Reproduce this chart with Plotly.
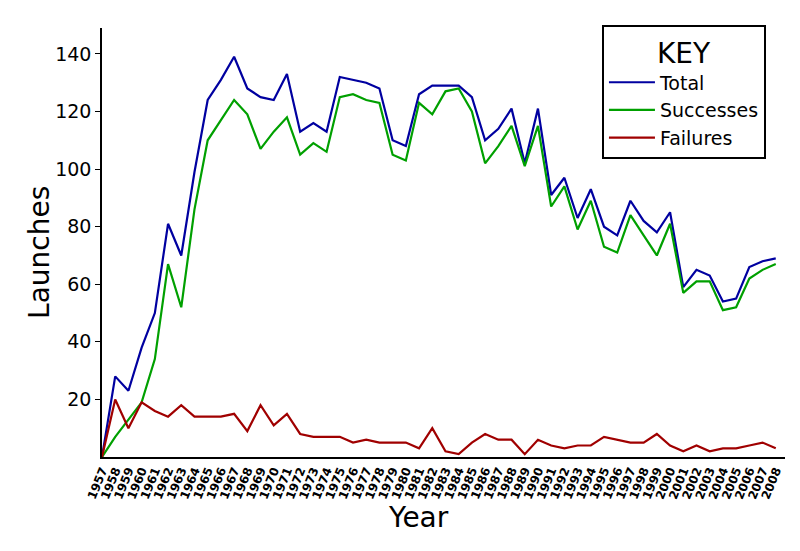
import plotly.graph_objects as go

years = list(range(1957, 2009))
total = [0, 28, 23, 38, 50, 81, 70, 99, 124, 131, 139, 128, 125, 124, 133, 113, 116, 113,
         132, 131, 130, 128, 110, 108, 126, 129, 129, 129, 125, 110, 114, 121, 102, 121,
         91, 97, 83, 93, 80, 77, 89, 82, 78, 85, 59, 65, 63, 54, 55, 66, 68, 69]
successes = [0, 7, 13, 19, 34, 67, 52, 86, 110, 117, 124, 119, 107, 113, 118, 105, 109, 106,
             125, 126, 124, 123, 105, 103, 123, 119, 127, 128, 120, 102, 108, 115, 101, 115,
             87, 94, 79, 89, 73, 71, 84, 77, 70, 81, 57, 61, 61, 51, 52, 62, 65, 67]
failures = [0, 20, 10, 19, 16, 14, 18, 14, 14, 14, 15, 9, 18, 11, 15, 8, 7, 7,
            7, 5, 6, 5, 5, 5, 3, 10, 2, 1, 5, 8, 6, 6, 1, 6,
            4, 3, 4, 4, 7, 6, 5, 5, 8, 4, 2, 4, 2, 3, 3, 4, 5, 3]
tick_labels = [str(y) for y in years]
y_ticks = [20, 40, 60, 80, 100, 120, 140]

font = "DejaVu Sans"
fig = go.Figure()
fig.add_trace(go.Scatter(x=years, y=total, mode="lines", name="Total",
                         line=dict(color="#0000A0", width=2.2)))
fig.add_trace(go.Scatter(x=years, y=successes, mode="lines", name="Successes",
                         line=dict(color="#00A000", width=2.2)))
fig.add_trace(go.Scatter(x=years, y=failures, mode="lines", name="Failures",
                         line=dict(color="#A00000", width=2.2)))

fig.update_layout(
    width=800, height=551,
    margin=dict(l=102, r=15, t=28, b=94, autoexpand=False),
    paper_bgcolor="white", plot_bgcolor="white",
    font=dict(family=font, color="black"),
    showlegend=True,
    legend=dict(
        x=0.732, y=1.007, xanchor="left", yanchor="top",
        bordercolor="black", borderwidth=2, bgcolor="white",
        font=dict(family=font, size=19),
        title=dict(text="KEY", font=dict(family=font, size=28), side="top center"),
        itemwidth=46, tracegroupgap=0,
    ),
    xaxis=dict(
        range=[1957, 2008.7], tickmode="array", tickvals=years, ticktext=tick_labels,
        tickangle=-68, tickfont=dict(family=font, size=12, weight="bold"),
        showline=True, linecolor="black", linewidth=1.5, showgrid=False, zeroline=False,
        ticks="", automargin=False,
    ),
    yaxis=dict(
        range=[0, 149], tickmode="array", tickvals=y_ticks,
        tickfont=dict(family=font, size=19),
        showline=True, linecolor="black", linewidth=1.5, showgrid=False, zeroline=False,
        ticks="outside", ticklen=5, tickcolor="black", automargin=False,
    ),
    annotations=[
        dict(text="Year", xref="paper", yref="paper", x=0.463, y=-0.14,
             xanchor="center", yanchor="middle", showarrow=False,
             font=dict(family=font, size=28)),
        dict(text="Launches", xref="paper", yref="paper", x=-0.0908, y=0.478,
             xanchor="center", yanchor="middle", showarrow=False, textangle=-90,
             font=dict(family=font, size=28)),
    ],
)

fig.write_html("out.html", config={"displayModeBar": False},
               post_script="document.body.style.margin='0px';")
